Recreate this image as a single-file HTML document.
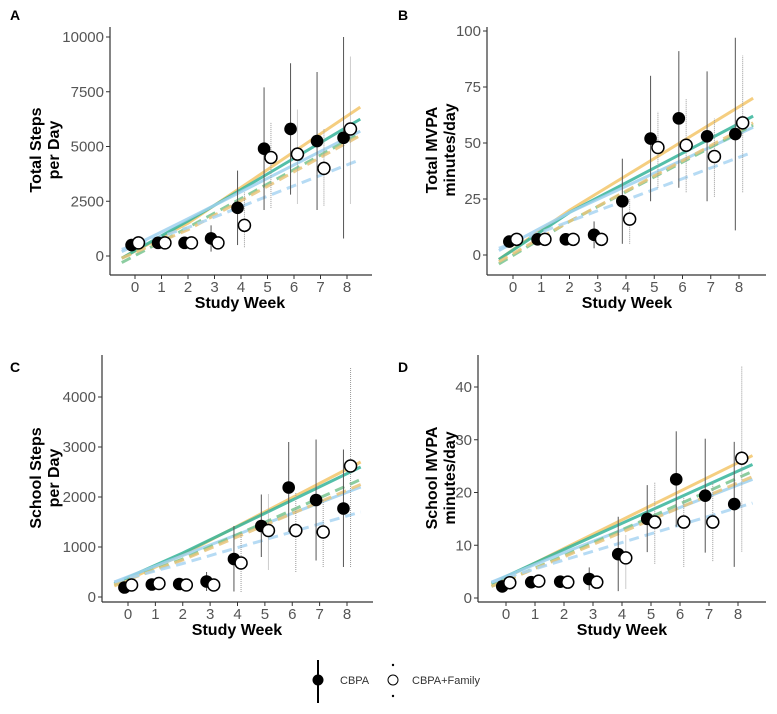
<!DOCTYPE html>
<html><head><meta charset="utf-8"><style>
body{margin:0;background:#fff;}
svg{display:block;font-family:"Liberation Sans",Arial,sans-serif;}
</style></head><body>
<svg id="chart" width="777" height="714" viewBox="0 0 777 714"></svg>
<script>
const weeks=[0,1,2,3,4,5,6,7,8];
// Panel A: Total steps
const aCbpa=[500,600,600,800,2200,4900,5800,5250,5400];
const aCbpaLo=[null,null,null,200,500,2100,2800,2100,800];
const aCbpaHi=[null,null,null,1400,3900,7700,8800,8400,10000];
const aFam=[600,600,600,600,1400,4500,4650,4000,5800];
const aFamLo=[null,null,null,null,400,2200,2400,2300,2400];
const aFamHi=[null,null,null,null,2900,6100,6700,5800,9100];
const aTicks=[0,2500,5000,7500,10000];
// Panel B: Total MVPA
const bCbpa=[6,7,7,9,24,52,61,53,54];
const bCbpaLo=[null,null,null,3,5,24,30,24,11];
const bCbpaHi=[null,null,null,15,43,80,91,82,97];
const bFam=[7,7,7,7,16,48,49,44,59];
const bFamLo=[null,null,null,null,5,30,28,26,28];
const bFamHi=[null,null,null,null,25,64,70,61,89];
const bTicks=[0,25,50,75,100];
// Panel C: School steps
const cCbpa=[190,250,260,310,760,1420,2190,1940,1770];
const cCbpaLo=[null,null,null,120,110,800,1300,730,600];
const cCbpaHi=[null,null,null,500,1420,2050,3100,3150,2950];
const cFam=[240,270,240,240,680,1330,1330,1300,2620];
const cFamLo=[null,null,null,null,100,550,500,600,600];
const cFamHi=[null,null,null,null,1300,2050,2100,1950,4600];
const cTicks=[0,1000,2000,3000,4000];
// Panel D: School MVPA
const dCbpa=[2.2,3,3.1,3.6,8.3,15,22.5,19.4,17.8];
const dCbpaLo=[null,null,null,1.5,1.3,8.7,13.5,8.6,5.9];
const dCbpaHi=[null,null,null,5.8,15.4,21.4,31.6,30.2,29.6];
const dFam=[2.9,3.2,3,3,7.6,14.4,14.4,14.4,26.5];
const dFamLo=[null,null,null,null,1.8,6.5,5.9,7,8.8];
const dFamHi=[null,null,null,null,12,22,19,22,44];
const dTicks=[0,10,20,30,40];
// Trend lines: values at weeks -0.5, 2, 8.5
const lineWeeks=[-0.5,2,8.5];
const aLines=[[-100,1500,6800],[-100,1600,6250],[200,1700,5700],[-300,1300,5600],[-100,1200,5500],[300,1300,4400]];
const bLines=[[-2,20,70],[-2,19,62],[2,19,57],[-4,15,58],[-3,15,59],[3,15,46]];
const cLines=[[220,850,2700],[270,880,2600],[300,830,2200],[250,760,2350],[250,740,2250],[300,670,1700]];
const dLines=[[2.5,9.4,27],[2.8,9.2,25.3],[3,8.6,22.5],[2.2,8,24],[2.2,7.8,23],[3,7.2,18]];
const lineStyles=[["#f3c56a",false],["#35b49a",false],["#9fd1ee",false],["#78c48f",true],["#e9c47a",true],["#a9d5f2",true]];

const NS="http://www.w3.org/2000/svg";
const svg=document.getElementById('chart');
function mk(tag,attrs,parent){const e=document.createElementNS(NS,tag);for(const k in attrs)e.setAttribute(k,attrs[k]);(parent||svg).appendChild(e);return e;}

const panels=[
 {id:'a',label:'A',lx:10,ly:20,ax:110,top:27,bottom:275,right:372,x0:135,x8:347,yp0:256,ypT:37,vT:10000,ticks:aTicks,title:['Total Steps','per Day'],tx:44,ty:150,xt:240,xty:308,c:aCbpa,cl:aCbpaLo,ch:aCbpaHi,f:aFam,fl:aFamLo,fh:aFamHi,lines:aLines},
 {id:'b',label:'B',lx:398,ly:20,ax:487,top:27,bottom:275,right:766,x0:513,x8:739,yp0:255,ypT:31,vT:100,ticks:bTicks,title:['Total MVPA','minutes/day'],tx:440,ty:150,xt:627,xty:308,c:bCbpa,cl:bCbpaLo,ch:bCbpaHi,f:bFam,fl:bFamLo,fh:bFamHi,lines:bLines},
 {id:'c',label:'C',lx:10,ly:372,ax:102,top:355,bottom:602,right:373,x0:128,x8:347,yp0:597,ypT:397,vT:4000,ticks:cTicks,title:['School Steps','per Day'],tx:44,ty:478,xt:237,xty:635,c:cCbpa,cl:cCbpaLo,ch:cCbpaHi,f:cFam,fl:cFamLo,fh:cFamHi,lines:cLines},
 {id:'d',label:'D',lx:398,ly:372,ax:478,top:355,bottom:602,right:766,x0:506,x8:738,yp0:598,ypT:387,vT:40,ticks:dTicks,title:['School MVPA','minutes/day'],tx:440,ty:478,xt:622,xty:635,c:dCbpa,cl:dCbpaLo,ch:dCbpaHi,f:dFam,fl:dFamLo,fh:dFamHi,lines:dLines}
];

panels.forEach(p=>{
 const g=mk('g',{});
 
 
 const X=w=>p.x0+(p.x8-p.x0)*w/8;
 const Y=v=>p.yp0+(p.ypT-p.yp0)*v/p.vT;
 const lab=mk('text',{x:p.lx,y:p.ly,'font-size':14,'font-weight':'bold',fill:'#000'},g);
 lab.textContent=p.label;
 
 
 const ya=mk('line',{x1:p.ax,y1:p.top,x2:p.ax,y2:p.bottom,stroke:'#333','stroke-width':1.2},g);
 
 
 const xa=mk('line',{x1:p.ax,y1:p.bottom,x2:p.right,y2:p.bottom,stroke:'#333','stroke-width':1.2},g);
 
 
 p.ticks.forEach(t=>{
  mk('line',{x1:p.ax-4,y1:Y(t),x2:p.ax,y2:Y(t),stroke:'#333'},g);
  const tt=mk('text',{x:p.ax-6,y:Y(t)+5,'text-anchor':'end','font-size':15,fill:'#555'},g);
  tt.textContent=t;
  
  
 });
 weeks.forEach(w=>{
  mk('line',{x1:X(w),y1:p.bottom,x2:X(w),y2:p.bottom+4,stroke:'#333'},g);
  const tt=mk('text',{x:X(w),y:p.bottom+17,'text-anchor':'middle','font-size':15,fill:'#555'},g);
  tt.textContent=w;
  
  
 });
 const xt=mk('text',{x:p.xt,y:p.xty,'text-anchor':'middle','font-size':16,'font-weight':'bold'},g);
 xt.textContent='Study Week';
 
 
 const yt=mk('text',{transform:`translate(${p.tx},${p.ty}) rotate(-90)`,'text-anchor':'middle','font-size':16,'font-weight':'bold'},g);
 
 
 p.title.forEach((s,i)=>{const ts=mk('tspan',{x:0,y:(i===0?-3:15)},yt);ts.textContent=s;});
 p.lines.forEach((vals,i)=>{
  const pts=vals.map((v,j)=>X(lineWeeks[j])+','+Y(v)).join(' ');
  const pl=mk('polyline',{points:pts,fill:'none',stroke:lineStyles[i][0],'stroke-width':3,'stroke-opacity':0.85},g);
  if(lineStyles[i][1])pl.setAttribute('stroke-dasharray','10,6');
  
  
 });
 weeks.forEach((w,i)=>{
  if(p.cl[i]!==null){const e=mk('line',{x1:X(w-0.13),y1:Y(p.cl[i]),x2:X(w-0.13),y2:Y(p.ch[i]),stroke:'#555','stroke-width':1},g);
   
   }
  if(p.fl[i]!==null){const e=mk('line',{x1:X(w+0.13),y1:Y(p.fl[i]),x2:X(w+0.13),y2:Y(p.fh[i]),stroke:'#999','stroke-width':1,'stroke-dasharray':'1,1'},g);
   
   }
 });
 weeks.forEach((w,i)=>{
  const c=mk('circle',{cx:X(w-0.13),cy:Y(p.c[i]),r:6.3,fill:'#000'},g);
  
  
  const o=mk('circle',{cx:X(w+0.13),cy:Y(p.f[i]),r:6,fill:'#fff',stroke:'#000','stroke-width':1.5},g);
  
  
 });
});
const lg=mk('g',{});


mk('line',{x1:318,y1:660,x2:318,y2:703,stroke:'#000','stroke-width':2},lg);
mk('circle',{cx:318,cy:680,r:5.5,fill:'#000'},lg);
const l1=mk('text',{x:340,y:684,'font-size':11,fill:'#333'},lg);l1.textContent='CBPA';


mk('circle',{cx:393,cy:665,r:1.2,fill:'#000'},lg);
mk('circle',{cx:393,cy:696,r:1.2,fill:'#000'},lg);
mk('circle',{cx:393,cy:680,r:5,fill:'#fff',stroke:'#000','stroke-width':1},lg);
const l2=mk('text',{x:412,y:684,'font-size':11,fill:'#333'},lg);l2.textContent='CBPA+Family';


</script>
</body></html>
